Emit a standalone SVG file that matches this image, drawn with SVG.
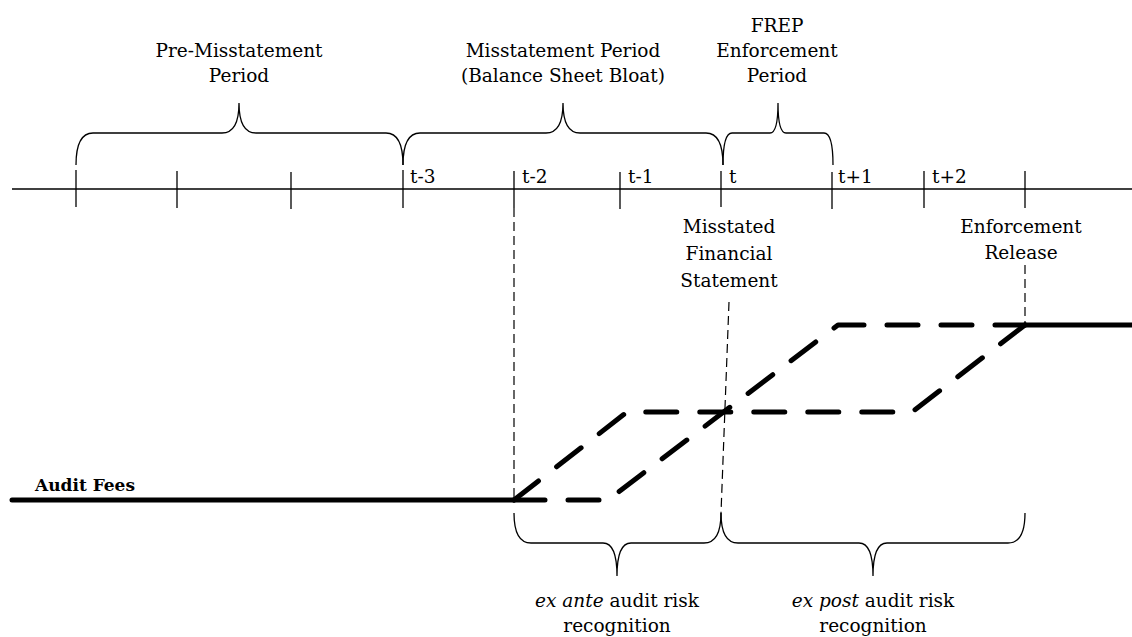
<svg xmlns="http://www.w3.org/2000/svg" width="1132" height="637" viewBox="0 0 1132 637">
<style>
text{font-family:"DejaVu Serif",serif;font-size:18.5px;fill:#000}
.c{text-anchor:middle}
.b{font-weight:bold;font-size:17px}
.thin{fill:none;stroke:#000;stroke-width:1.3}
.brace{fill:none;stroke:#000;stroke-width:1.3}
.vd{fill:none;stroke:#000;stroke-width:1.2;stroke-dasharray:9 5}
.thick{fill:none;stroke:#000;stroke-width:5;stroke-linecap:round;stroke-linejoin:round}
.td{fill:none;stroke:#000;stroke-width:5;stroke-linecap:round;stroke-linejoin:round;stroke-dasharray:31 23}
</style>
<rect width="1132" height="637" fill="#fff"/>
<g id="axis">
<line class="thin" x1="12" y1="189" x2="1132" y2="189"/>
<g class="thin">
<line x1="76" y1="170" x2="76" y2="207"/>
<line x1="177" y1="171" x2="177" y2="208"/>
<line x1="291" y1="172" x2="291" y2="209"/>
<line x1="403" y1="170" x2="403" y2="208"/>
<line x1="514" y1="171" x2="514" y2="208"/>
<line x1="620" y1="172" x2="620" y2="209"/>
<line x1="721" y1="171" x2="721" y2="207"/>
<line x1="832" y1="172" x2="832" y2="209"/>
<line x1="924" y1="171" x2="924" y2="208"/>
<line x1="1025" y1="171" x2="1025" y2="208"/>
</g>
<text x="410" y="183">t-3</text>
<text x="522" y="183">t-2</text>
<text x="628" y="183">t-1</text>
<text x="729" y="183">t</text>
<text x="838" y="183">t+1</text>
<text x="932" y="183">t+2</text>
</g>
<g id="pre-misstatement">
<path class="brace" d="M76,165 Q76,133 93,133 L222,133 Q239,133 239,103 Q239,133 256,133 L386,133 Q403,133 403,165"/>
<text class="c" x="239" y="57">Pre-Misstatement</text>
<text class="c" x="239" y="82">Period</text>
</g>
<g id="misstatement-period">
<path class="brace" d="M403,165 Q403,133 420,133 L546,133 Q563,133 563,103 Q563,133 580,133 L706,133 Q723,133 723,165"/>
<text class="c" x="563" y="57">Misstatement Period</text>
<text class="c" x="563" y="82">(Balance Sheet Bloat)</text>
</g>
<g id="frep">
<path class="brace" d="M723,165 Q723,133 732,133 L770,133 Q778,133 778,103 Q778,133 786,133 L824,133 Q833,133 833,165"/>
<text class="c" x="777" y="32">FREP</text>
<text class="c" x="777" y="57">Enforcement</text>
<text class="c" x="777" y="82">Period</text>
</g>
<g id="misstated-fs">
<text class="c" x="729" y="233">Misstated</text>
<text class="c" x="729" y="260">Financial</text>
<text class="c" x="729" y="287">Statement</text>
</g>
<g id="enforcement-release">
<text class="c" x="1021" y="233">Enforcement</text>
<text class="c" x="1021" y="259">Release</text>
</g>
<g id="audit-fees">
<text class="b" x="35" y="491">Audit Fees</text>
</g>
<g id="connectors">
<line class="vd" x1="514" y1="208" x2="514" y2="500"/>
<line class="vd" x1="729" y1="302" x2="721" y2="513"/>
<line class="vd" x1="1025" y1="265" x2="1025" y2="325"/>
<line class="thick" x1="12" y1="500" x2="514" y2="500"/>
<line class="thick" x1="1025" y1="325" x2="1132" y2="325"/>
<path class="td" d="M514,500 L627,412 L912,412 L1025,325"/>
<path class="td" d="M514,500 L608,500 L838,325 L1025,325"/>
</g>
<g id="ex-ante">
<path class="brace" d="M514,513 Q514,543 531,543 L603,543 Q617,543 617,576 Q617,543 631,543 L704,543 Q721,543 721,513"/>
<text class="c" x="617" y="607"><tspan font-style="italic">ex ante</tspan> audit risk</text>
<text class="c" x="617" y="632">recognition</text>
</g>
<g id="ex-post">
<path class="brace" d="M721,513 Q721,543 738,543 L859,543 Q873,543 873,576 Q873,543 887,543 L1008,543 Q1025,543 1025,513"/>
<text class="c" x="873" y="607"><tspan font-style="italic">ex post</tspan> audit risk</text>
<text class="c" x="873" y="632">recognition</text>
</g>
</svg>
